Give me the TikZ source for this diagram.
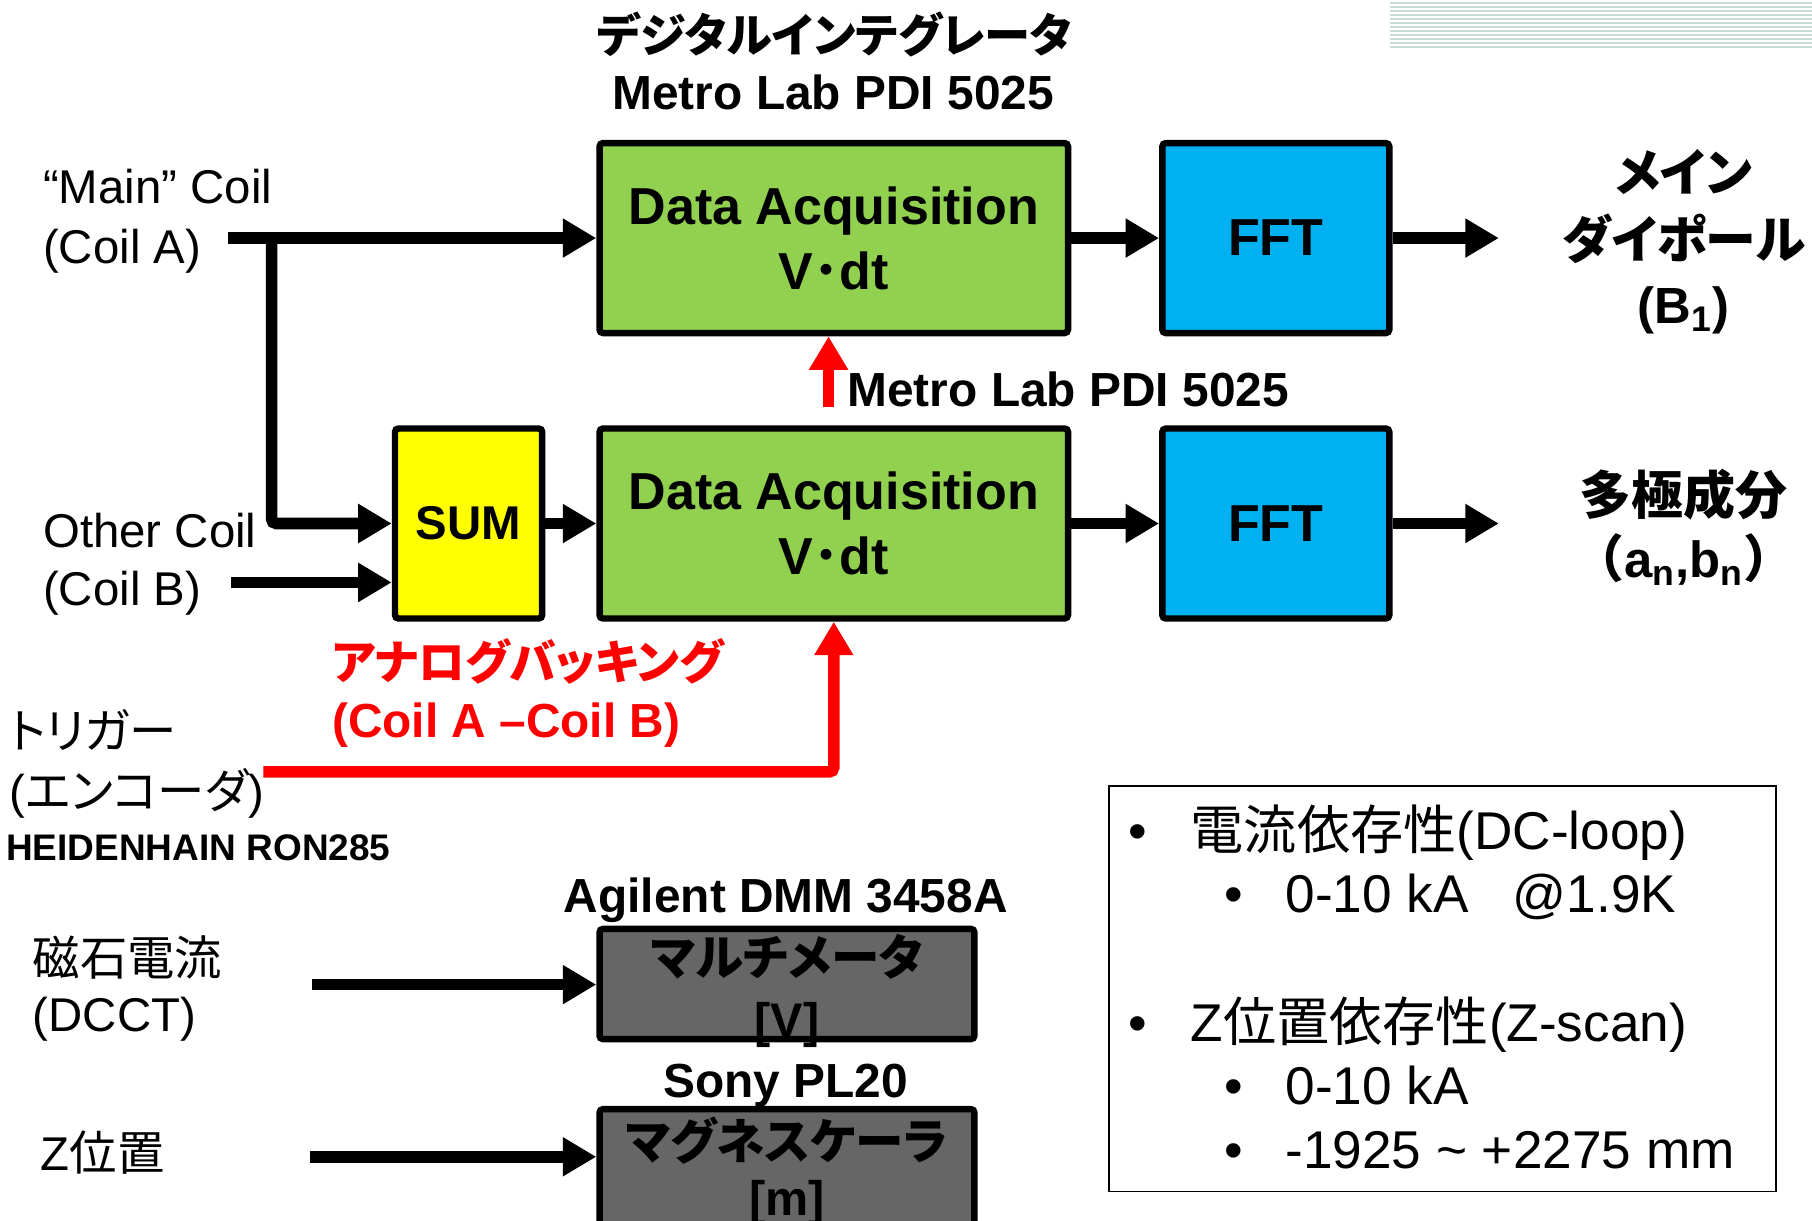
\documentclass[tikz,border=0pt]{standalone}
\usepackage{fontspec}
\setmainfont{Liberation Sans}
\newfontfamily\jp[RawFeature=+palt]{Noto Sans CJK JP}
\newfontfamily\jpf{Noto Sans CJK JP}
\usetikzlibrary{arrows.meta}
\definecolor{dgreen}{HTML}{92D050}
\definecolor{dblue}{HTML}{00B0F0}
\definecolor{dyellow}{HTML}{FFFF00}
\definecolor{dgray}{HTML}{666666}
\definecolor{stripecol}{HTML}{CADBD3}
\definecolor{dred}{HTML}{FF0000}
\newcommand\setfs[2]{\fontsize{#1}{#2}\selectfont}
\begin{document}
\begin{tikzpicture}[x=0.5pt,y=-0.5pt,
  blk/.style={draw=black,line width=2.8pt,rounded corners=1.5pt,inner sep=0pt,align=center},
  greenbox/.style={blk,fill=dgreen,minimum width=202.7pt,minimum height=82.2pt,font=\setfs{22.5}{28}\bfseries},
  fftbox/.style={blk,fill=dblue,minimum width=98.2pt,minimum height=82.2pt,font=\setfs{22.5}{22.5}\bfseries},
  graybox/.style={blk,fill=dgray,minimum width=162.2pt},
  graytxt/.style={inner sep=0pt,align=center},
  arr/.style={line width=5pt,rounded corners=2pt,-{Triangle[length=14.5pt,width=16pt]}},
  redarr/.style={arr,draw=dred},
  lbl/.style={inner sep=0pt,anchor=base west},
  clbl/.style={inner sep=0pt,anchor=base},
  reg/.style={font=\setfs{20.5}{20.5}},
  bld/.style={font=\setfs{20.7}{20.7}\bfseries},
  boxtxt/.style={font=\setfs{23}{23}},
]
\useasboundingbox (0,0) rectangle (1568,1056);
\clip (0,0) rectangle (1568,1056);

% decorative stripes
\foreach \i in {0,...,11}
  \fill[stripecol] (1203,{2+\i*3.46}) rectangle (1568,{3.75+\i*3.46});

% titles
\node[clbl,font=\setfs{20}{20}\bfseries] (ttl1) at (722,45) {\jp デジタルインテグレータ};
\node[clbl,bld] (ttl2) at (721,95) {Metro Lab PDI 5025};

% blocks
\node[greenbox] (g1) at (721.5,206) {Data Acquisition\\V{\jpf ･}dt};
\node[fftbox] (f1) at (1104,206) {FFT};
\node[greenbox] (g2) at (721.5,453) {Data Acquisition\\V{\jpf ･}dt};
\node[fftbox] (f2) at (1104,453) {FFT};
\node[blk,fill=dyellow,minimum width=63.7pt,minimum height=82.2pt,font=\setfs{20.5}{20.5}\bfseries] (sum) at (405.5,453) {SUM};

\node[graybox,minimum height=47.7pt] (gb1) at (681,851.5) {};
\node[graytxt,font=\setfs{21}{27}\bfseries] (gb1t) at (681,857.5) {{\jp マルチメータ}\\{[V]}};
\node[graybox,minimum height=53.7pt] (gb2) at (681,1013.5) {};
\node[graytxt,font=\setfs{21}{24.5}\bfseries] (gb2t) at (681,1013.5) {{\jp マグネスケーラ}\\{[m]}};

% left labels
\node[lbl,reg] (ca1) at (37,176) {“Main” Coil};
\node[lbl,reg] (ca2) at (37,228) {(Coil A)};
\node[lbl,reg] (cb1) at (37,474) {Other Coil};
\node[lbl,reg] (cb2) at (37,524) {(Coil B)};
\node[lbl,reg] (tr1) at (8,648) {\jp トリガー};
\node[lbl,reg] (tr2) at (8,700) {({\jp エンコーダ})};
\node[lbl,font=\setfs{16}{16}\bfseries] (tr3) at (5,745) {HEIDENHAIN RON285};
\node[lbl,reg] (dc1) at (28,844) {\jp 磁石電流};
\node[lbl,reg] (dc2) at (28,893) {(DCCT)};
\node[lbl,reg] (zp1) at (35,1013) {Z{\jp 位置}};

% red labels
\node[lbl,font=\setfs{20.2}{20.2}\bfseries,text=dred] (ab1) at (287,588) {\jp アナログバッキング};
\node[lbl,bld,text=dred] (ab2) at (287,638) {(Coil A –Coil B)};

% mid label
\node[lbl,bld] (ml) at (733,352) {Metro Lab PDI 5025};

% device labels
\node[clbl,bld] (ag) at (680,790) {Agilent DMM 3458A};
\node[clbl,bld] (sy) at (680,950) {Sony PL20};

% outputs
\node[clbl,font=\setfs{22}{22}\bfseries] (out1) at (1457,166) {\jp メイン};
\node[clbl,font=\setfs{22}{22}\bfseries] (out2) at (1457,224) {\jp ダイポール};
\node[clbl,font=\setfs{22}{22}\bfseries] (out3) at (1457,280) {(B\textsubscript{1})};
\node[clbl,font=\setfs{22.5}{22.5}\bfseries] (out4) at (1457,445) {\jp 多極成分};
\node[clbl,font=\setfs{22}{22}\bfseries] (out5) at (1457,500) {{\jpf （}a\textsubscript{n},b\textsubscript{n}{\jpf ）}};

% connectors
\coordinate (cA) at (197,206);
\coordinate (brA) at (235,206);
\coordinate (cB) at (200,504);
\draw[arr] (cA) -- (g1.west);
\draw[arr] (brA) |- (sum.west);
\draw[arr] (cB) -- (cB -| sum.west);
\draw[arr] (sum.east) -- (g2.west);
\draw[arr] (g1.east) -- (f1.west);
\draw[arr] (g2.east) -- (f2.west);
\coordinate (o1) at (1297,206);
\coordinate (o2) at (1297,453);
\draw[arr] (f1.east) -- (o1);
\draw[arr] (f2.east) -- (o2);

\coordinate (mr) at (717,352);
\draw[redarr] (mr) -- (mr |- g1.south);
\coordinate (trg) at (228,668);
\draw[redarr] (trg) -| (g2.south);

\coordinate (dcc) at (270,852);
\coordinate (zpc) at (268,1001);
\draw[arr] (dcc) -- (dcc -| gb1.west);
\draw[arr] (zpc) -- (zpc -| gb2.west);

% right info box
\node[draw,line width=0.8pt,minimum width=288.5pt,minimum height=175.5pt,inner sep=0pt] (info) at (1248.5,855.5) {};
\node[clbl,boxtxt] (b1) at (985,735) {•};
\node[lbl,boxtxt] (i1) at (1030,735) {{\jp 電流依存性}(DC-loop)};
\node[clbl,boxtxt] (b2) at (1068,790) {•};
\node[lbl,boxtxt] (i2) at (1112,790) {0-10 kA\ \ \ @1.9K};
\node[clbl,boxtxt] (b3) at (985,901) {•};
\node[lbl,boxtxt] (i3) at (1030,901) {Z{\jp 位置依存性}(Z-scan)};
\node[clbl,boxtxt] (b4) at (1068,956) {•};
\node[lbl,boxtxt] (i4) at (1112,956) {0-10 kA};
\node[clbl,boxtxt] (b5) at (1068,1011) {•};
\node[lbl,boxtxt] (i5) at (1112,1011) {-1925 \textasciitilde{} +2275 mm};
\end{tikzpicture}
\end{document}
